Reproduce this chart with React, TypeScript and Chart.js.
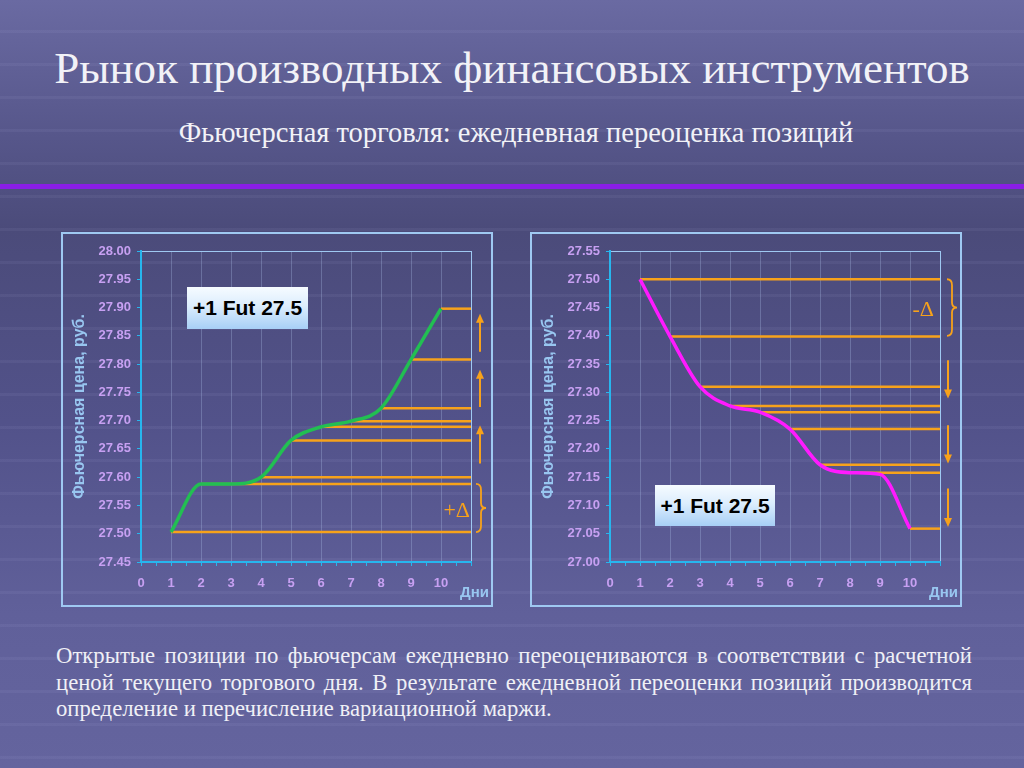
import React, { useEffect, useRef } from "react";
import { Chart, registerables } from "chart.js";

Chart.register(...registerables);

// ---------- data ----------
const DAYS = [1, 2, 3, 4, 5, 6, 7, 8, 9, 10];
const X_TICK_LABELS = ["0", "1", "2", "3", "4", "5", "6", "7", "8", "9", "10"];

const LONG_PRICES = [27.503, 27.588, 27.588, 27.6, 27.665, 27.689, 27.699, 27.722, 27.808, 27.898];
const LONG_LINE_DAYS = [1, 2, 4, 5, 6, 7, 8, 9, 10];
const LONG_Y_RANGE = [27.45, 28.0];
const LONG_ARROWS = [
  [27.822, 27.889],
  [27.724, 27.79],
  [27.624, 27.692],
];
const LONG_BRACE = [27.588, 27.503];
const LONG_DELTA = { text: "+Δ", y: 27.539 };

const SHORT_PRICES = [27.5, 27.399, 27.31, 27.276, 27.265, 27.235, 27.172, 27.158, 27.155, 27.059];
const SHORT_LINE_DAYS = [1, 2, 3, 4, 5, 6, 7, 8, 10];
const SHORT_Y_RANGE = [27.0, 27.55];
const SHORT_ARROWS = [
  [27.357, 27.289],
  [27.242, 27.174],
  [27.13, 27.062],
];
const SHORT_BRACE = [27.5, 27.4];
const SHORT_DELTA = { text: "-Δ", y: 27.445 };

const POSITION_LABEL = "+1 Fut 27.5";
const Y_TITLE = "Фьючерсная цена, руб.";
const X_TITLE = "Дни";

// ---------- styles ----------
const ORANGE = "#f7a21b";
const AXIS = "#27b6ee";
const LIGHT = "#9fc9f2";
const GRID = "rgba(175,195,235,0.3)";
const TICK_TEXT = "#c7a0f2";
const TITLE_TEXT = "#98c6f0";
const SANS = "'Liberation Sans', Arial, sans-serif";
const SERIF = "'Liberation Serif', 'Times New Roman', serif";

const annotPlugin = {
  id: "annot",
  afterDraw(chart: any, _args: any, opts: any) {
    const { ctx, chartArea, scales } = chart;
    const y = scales.y;
    ctx.save();
    ctx.strokeStyle = ORANGE;
    ctx.fillStyle = ORANGE;
    ctx.lineWidth = 2;
    ctx.lineCap = "butt";
    const ax = chartArea.right + opts.arrowDx;
    for (const [a, b] of opts.arrows) {
      const ya = y.getPixelForValue(a);
      const yb = y.getPixelForValue(b);
      const dir = Math.sign(yb - ya);
      ctx.beginPath();
      ctx.moveTo(ax, ya);
      ctx.lineTo(ax, yb - dir * 6);
      ctx.stroke();
      ctx.beginPath();
      ctx.moveTo(ax, yb);
      ctx.lineTo(ax - 4, yb - dir * 9);
      ctx.lineTo(ax + 4, yb - dir * 9);
      ctx.closePath();
      ctx.fill();
    }
    // brace
    const y1 = y.getPixelForValue(opts.brace[0]);
    const y2 = y.getPixelForValue(opts.brace[1]);
    const top = Math.min(y1, y2);
    const bot = Math.max(y1, y2);
    const ym = (top + bot) / 2;
    const x0 = chartArea.right + opts.braceDx;
    ctx.lineWidth = 1.8;
    ctx.beginPath();
    ctx.moveTo(x0, top);
    ctx.quadraticCurveTo(x0 + 5, top, x0 + 5, top + 6);
    ctx.lineTo(x0 + 5, ym - 5);
    ctx.quadraticCurveTo(x0 + 5, ym, x0 + 10, ym);
    ctx.quadraticCurveTo(x0 + 5, ym, x0 + 5, ym + 5);
    ctx.lineTo(x0 + 5, bot - 6);
    ctx.quadraticCurveTo(x0 + 5, bot, x0, bot);
    ctx.stroke();
    // delta text
    ctx.font = `22px ${SERIF}`;
    ctx.textAlign = "right";
    ctx.textBaseline = "middle";
    ctx.fillText(opts.delta.text, chartArea.right + opts.deltaDx, y.getPixelForValue(opts.delta.y));
    // x title
    ctx.fillStyle = TITLE_TEXT;
    ctx.font = `bold 15px ${SANS}`;
    ctx.textAlign = "right";
    ctx.fillText(X_TITLE, chartArea.right + 18, chartArea.bottom + 31);
    ctx.restore();
  },
};

const isInt = (v: number) => Math.abs(v - Math.round(v)) < 1e-6;

function FutChart(props: any) {
  const { prices, lineDays, color, yRange, arrows, brace, delta, deltaDx, arrowDx, braceDx, left, top } = props;
  const ref = useRef<HTMLCanvasElement>(null);
  useEffect(() => {
    const datasets: any[] = [];
    lineDays.forEach((d: number) => {
      const p = prices[DAYS.indexOf(d)];
      datasets.push({
        data: [
          { x: d, y: p },
          { x: 11, y: p },
        ],
        borderColor: ORANGE,
        borderWidth: 2.5,
        pointRadius: 0,
        tension: 0,
        order: 2,
      });
    });
    datasets.push({
      data: DAYS.map((d, i) => ({ x: d, y: prices[i] })),
      borderColor: color,
      borderWidth: 3.5,
      pointRadius: 0,
      cubicInterpolationMode: "monotone",
      order: 1,
    });
    const tickFont = { family: SANS, size: 13, weight: "bold" as const };
    const chart = new Chart(ref.current as HTMLCanvasElement, {
      type: "line",
      data: { datasets },
      plugins: [annotPlugin as any],
      options: {
        animation: false,
        responsive: false,
        layout: { padding: { left: 0, right: 22, top: 19, bottom: 0 } },
        plugins: {
          legend: { display: false },
          tooltip: { enabled: false },
          annot: { arrows, brace, delta, deltaDx, arrowDx, braceDx },
        } as any,
        scales: {
          x: {
            type: "linear",
            min: 0,
            max: 11,
            afterFit: (s: any) => {
              s.height = 45;
            },
            ticks: {
              stepSize: 0.5,
              autoSkip: false,
              maxRotation: 0,
              padding: 10,
              color: TICK_TEXT,
              font: tickFont,
              callback: (v: any) => (isInt(v) && Math.round(v) <= 10 ? X_TICK_LABELS[Math.round(v)] : ""),
            },
            grid: {
              color: (c: any) => {
                const v = c.tick ? c.tick.value : 0;
                if (Math.abs(v - 11) < 1e-6) return LIGHT;
                if (isInt(v) && v > 0.5) return GRID;
                return "rgba(0,0,0,0)";
              },
              tickColor: AXIS,
              tickLength: 4,
              lineWidth: 1,
            },
            border: { color: AXIS, width: 2 },
          },
          y: {
            type: "linear",
            min: yRange[0],
            max: yRange[1],
            afterFit: (s: any) => {
              s.width = 80;
            },
            ticks: {
              stepSize: 0.05,
              padding: 6,
              color: TICK_TEXT,
              font: tickFont,
              callback: (v: any) => Number(v).toFixed(2),
            },
            grid: {
              color: (c: any) => {
                const v = c.tick ? c.tick.value : 0;
                return Math.abs(v - yRange[1]) < 1e-6 ? LIGHT : "rgba(0,0,0,0)";
              },
              tickColor: AXIS,
              tickLength: 4,
              lineWidth: 1,
            },
            border: { color: AXIS, width: 2 },
            title: {
              display: true,
              text: Y_TITLE,
              color: TITLE_TEXT,
              font: { family: SANS, size: 16, weight: "bold" },
              padding: { top: 9, bottom: 0 },
            },
          },
        },
      },
    });
    return () => chart.destroy();
  }, []);
  return (
    <>
      <div
        style={{
          position: "absolute",
          left,
          top,
          width: 432,
          height: 375,
          border: `2px solid ${LIGHT}`,
          boxSizing: "border-box",
        }}
      />
      <canvas ref={ref} width={432} height={375} style={{ position: "absolute", left, top, width: 432, height: 375 }} />
    </>
  );
}

function PosBox({ left, top, width, height }: any) {
  return (
    <div
      style={{
        position: "absolute",
        left,
        top,
        width,
        height,
        background: "linear-gradient(to bottom, #f6fbff 0%, #dcedfd 45%, #a7cff6 100%)",
        color: "#000",
        font: `bold 21px ${SANS}`,
        display: "flex",
        alignItems: "center",
        justifyContent: "center",
        whiteSpace: "nowrap",
      }}
    >
      {POSITION_LABEL}
    </div>
  );
}

const TITLE = "Рынок производных финансовых инструментов";
const SUBTITLE = "Фьючерсная торговля: ежедневная переоценка позиций";
const BODY_LINES = [
  "Открытые позиции по фьючерсам ежедневно переоцениваются в соответствии с расчетной",
  "ценой текущего торгового дня. В результате ежедневной переоценки позиций производится",
  "определение и перечисление вариационной маржи.",
];

export default function App() {
  return (
    <div
      style={{
        position: "absolute",
        left: 0,
        top: 0,
        width: 1024,
        height: 768,
        overflow: "hidden",
        background:
          "repeating-linear-gradient(to bottom, rgba(255,255,255,0) 0px, rgba(255,255,255,0) 30px, rgba(210,210,255,0.06) 30px, rgba(210,210,255,0.06) 33px), linear-gradient(to bottom, #6a6aa2 0%, #56568a 18%, #4b4b7a 30%, #52528a 55%, #60609a 80%, #64649e 100%)",
        fontFamily: SERIF,
      }}
    >
      <div
        style={{
          position: "absolute",
          left: 0,
          top: 40,
          width: 1024,
          textAlign: "center",
          fontSize: 45,
          lineHeight: "56px",
          color: "#f2f2f7",
          whiteSpace: "nowrap",
        }}
      >
        {TITLE}
      </div>
      <div
        style={{
          position: "absolute",
          left: 4,
          top: 116,
          width: 1024,
          textAlign: "center",
          fontSize: 28.5,
          lineHeight: "34px",
          color: "#f2f2f7",
          whiteSpace: "nowrap",
        }}
      >
        {SUBTITLE}
      </div>
      <div style={{ position: "absolute", left: 0, top: 184, width: 1024, height: 5, background: "#8a1ee6" }} />

      <FutChart
        prices={LONG_PRICES}
        lineDays={LONG_LINE_DAYS}
        color="#22bf52"
        yRange={LONG_Y_RANGE}
        arrows={LONG_ARROWS}
        brace={LONG_BRACE}
        delta={LONG_DELTA}
        deltaDx={-1}
        arrowDx={9}
        braceDx={5}
        left={61}
        top={232}
      />
      <FutChart
        prices={SHORT_PRICES}
        lineDays={SHORT_LINE_DAYS}
        color="#ff1aff"
        yRange={SHORT_Y_RANGE}
        arrows={SHORT_ARROWS}
        brace={SHORT_BRACE}
        delta={SHORT_DELTA}
        deltaDx={-6}
        arrowDx={8}
        braceDx={7}
        left={530}
        top={232}
      />
      <PosBox left={187} top={287} width={121} height={42} />
      <PosBox left={655} top={485} width={120} height={41} />

      <div style={{ position: "absolute", left: 56, top: 643, width: 916, fontSize: 22.7, lineHeight: "26.5px", color: "#f0f0f6" }}>
        {BODY_LINES.map((l, i) => (
          <div
            key={i}
            style={{
              textAlign: "justify",
              textAlignLast: i < BODY_LINES.length - 1 ? "justify" : "left",
              whiteSpace: "nowrap",
            }}
          >
            {l}
          </div>
        ))}
      </div>
    </div>
  );
}
